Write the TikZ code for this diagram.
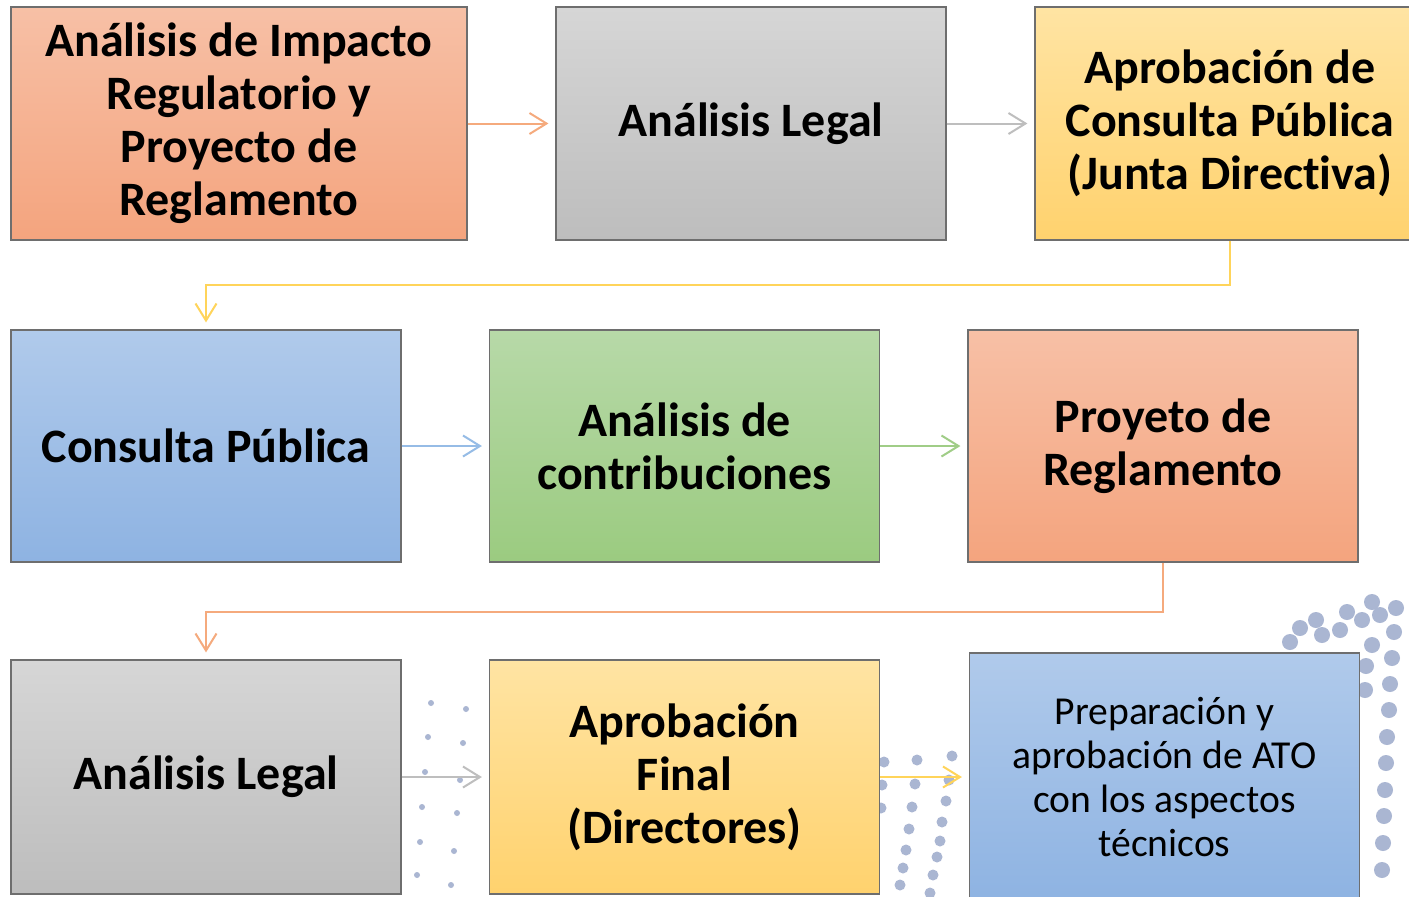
\documentclass[tikz,border=0pt]{standalone}
\usepackage{fontspec}
\setmainfont{Carlito}[Ligatures={NoCommon}]
\usetikzlibrary{arrows.meta}
\definecolor{orT}{RGB}{247,192,166}
\definecolor{orB}{RGB}{244,164,126}
\definecolor{grT}{RGB}{214,214,214}
\definecolor{grB}{RGB}{189,189,189}
\definecolor{yeT}{RGB}{255,228,163}
\definecolor{yeB}{RGB}{255,210,110}
\definecolor{blT}{RGB}{176,202,235}
\definecolor{blB}{RGB}{142,179,226}
\definecolor{gnT}{RGB}{183,217,168}
\definecolor{gnB}{RGB}{155,203,128}
\definecolor{edge}{RGB}{110,110,110}
\definecolor{aOr}{RGB}{245,170,125}
\definecolor{aGr}{RGB}{190,190,190}
\definecolor{aYe}{RGB}{255,212,90}
\definecolor{aBl}{RGB}{150,188,230}
\definecolor{aGn}{RGB}{160,205,135}
\definecolor{dotc}{RGB}{170,182,210}
\tikzset{
  box/.style={draw=edge, line width=0.6pt, rectangle, align=center, inner sep=0pt,
    font=\fontsize{24}{26.5}\selectfont\bfseries},
  wbox/.style={box, minimum width=228pt, minimum height=116.5pt},
  nbox/.style={box, minimum width=195pt, minimum height=116.5pt},
  orfill/.style={top color=orT, bottom color=orB},
  grfill/.style={top color=grT, bottom color=grB},
  yefill/.style={top color=yeT, bottom color=yeB},
  blfill/.style={top color=blT, bottom color=blB},
  gnfill/.style={top color=gnT, bottom color=gnB},
  conn/.style={line width=1pt, -{Straight Barb[length=8.5pt,width=10.5pt,line width=1pt]}, shorten >=3.5pt},
  dotb/.style={fill=dotc, draw=none},
}
\begin{document}
\begin{tikzpicture}[x=0.5pt, y=-0.5pt]
\useasboundingbox (0,0) rectangle (1409,896);
\clip (0,0) rectangle (1409,896);
\fill[white] (0,0) rectangle (1409,896);
% decorative dots
\foreach \x/\y in {431/703,466/709,428/737,463/743,425/772,460/780,422/807,457/813,420/842,454/851,417/875,451/885}
  \fill[dotb] (\x,\y) circle (3);
\foreach \x/\y in {917/760,915/784,912/807,909/829,906/850,903/868,900/885,952/756,949/780,946/801,942/822,940/841,937/857,933/875,930/893,884/762,882/785,881/808}
  \fill[dotb] (\x,\y) circle (5.5);
\foreach \x/\y in {1290/642,1300/628,1316/620,1322/635,1340/630,1347/612,1362/620,1372/602,1380/615,1396/608,1394/632,1392/658,1390/684,1389/710,1387/737,1386/763,1385/790,1384/816,1383/843,1382/870,1372/645,1366/666,1365/690}
  \fill[dotb] (\x,\y) circle (8);
% boxes
\node[wbox, orfill] (b1) at (239,123.5) {Análisis de Impacto\\Regulatorio y\\Proyecto de\\Reglamento};
\node[nbox, grfill] (b2) at (751,123.5) {Análisis Legal};
\node[nbox, yefill] (b3) at (1230,123.5) {Aprobación de\\Consulta Pública\\(Junta Directiva)};
\node[nbox, blfill, minimum height=116pt] (b4) at (206,446) {Consulta Pública};
\node[nbox, gnfill, minimum height=116pt] (b5) at (684.5,446) {Análisis de\\contribuciones};
\node[nbox, orfill, minimum height=116pt] (b6) at (1163,446) {Proyeto de\\Reglamento};
\node[nbox, grfill, minimum height=117pt] (b7) at (206,777) {Análisis Legal};
\node[nbox, yefill, minimum height=117pt] (b8) at (684.5,777) {Aprobación\\Final\\(Directores)};
\node[nbox, blfill, minimum height=124pt, font=\fontsize{19.8}{22}\selectfont] (b9) at (1164.5,777) {Preparación y\\aprobación de ATO\\con los aspectos\\técnicos};
% connectors
\coordinate (m1) at (700,285);
\coordinate (m2) at (700,612);
\draw[conn, aOr] (b1) -- (b2);
\draw[conn, aGr] (b2) -- (b3);
\draw[conn, aYe] (b3.south) |- (m1) -| (b4.north);
\draw[conn, aBl] (b4) -- (b5);
\draw[conn, aGn] (b5) -- (b6);
\draw[conn, aOr] (b6.south) |- (m2) -| (b7.north);
\draw[conn, aGr] (b7) -- (b8);
\draw[conn, aYe] (b8) -- (b9);
\end{tikzpicture}
\end{document}
